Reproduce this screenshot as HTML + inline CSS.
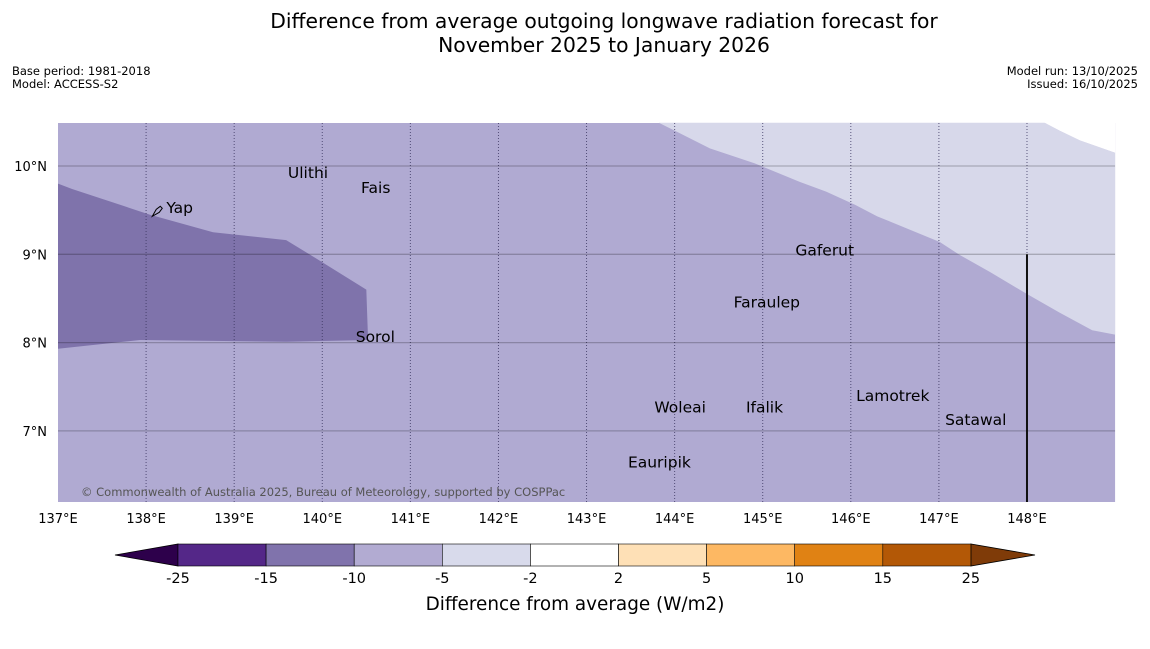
<!DOCTYPE html>
<html><head><meta charset="utf-8"><style>
body{margin:0;background:#fff;width:1150px;height:644px;overflow:hidden;font-family:"Liberation Sans","DejaVu Sans",sans-serif}
svg text{font-family:"DejaVu Sans","Liberation Sans",sans-serif}
</style></head><body>
<svg id="chart" width="1150" height="644" xmlns="http://www.w3.org/2000/svg">
<text x="604" y="28" font-size="20.3" text-anchor="middle">Difference from average outgoing longwave radiation forecast for</text>
<text x="604" y="52" font-size="20.3" text-anchor="middle">November 2025 to January 2026</text>
<text x="12" y="75" font-size="11.5">Base period: 1981-2018</text>
<text x="12" y="88" font-size="11.5">Model: ACCESS-S2</text>
<text x="1138" y="75" font-size="11.5" text-anchor="end">Model run: 13/10/2025</text>
<text x="1138" y="88" font-size="11.5" text-anchor="end">Issued: 16/10/2025</text>
<g id="map"></g>
<g id="cbar"></g>
<text x="575" y="610" font-size="18.4" text-anchor="middle">Difference from average (W/m2)</text>
</svg>
<script>
const lonTicks=[137,138,139,140,141,142,143,144,145,146,147,148];
const latTicks=[10,9,8,7];
const levels=[-25,-15,-10,-5,-2,2,5,10,15,25];
const levelColors=["#542788","#8073ac","#b2abd2","#d8daeb","#ffffff","#fee0b6","#fdb863","#e08214","#b35806"];
const places=["Ulithi","Fais","Yap","Gaferut","Faraulep","Sorol","Woleai","Ifalik","Lamotrek","Satawal","Eauripik"];
const placeLon=[139.61,140.44,138.23,145.37,144.67,140.38,143.77,144.81,146.06,147.07,143.47];
const placeLat=[9.9,9.73,9.5,9.02,8.43,8.04,7.24,7.24,7.37,7.1,6.62];
const lightLon=[143.82,144.0,144.4,144.91,145.42,145.72,146.05,146.3,147.01,147.24,147.58,148.0,148.37,148.74,149,149,148.6,148.37,148.2];
const lightLat=[10.49,10.4,10.2,10.03,9.82,9.71,9.56,9.43,9.14,8.99,8.8,8.55,8.34,8.14,8.09,10.15,10.29,10.4,10.49];
const cornerLon=[148.2,148.37,148.6,149,149];
const cornerLat=[10.49,10.4,10.29,10.15,10.49];
const darkLon=[137,137.16,138.04,138.76,139.59,139.92,140.5,140.52,139.59,137.93,137];
const darkLat=[9.8,9.74,9.45,9.25,9.16,8.96,8.6,8.03,8.01,8.03,7.93];
const NS="http://www.w3.org/2000/svg";
const X0=58,PX=88.09,Y10=166,PY=88.3;
const lonMax=149;
const x=l=>X0+(l-137)*PX, y=la=>Y10+(10-la)*PY;
const mapTop=123,mapBot=502;
function mk(t,a,p){const e=document.createElementNS(NS,t);for(const k in a)e.setAttribute(k,a[k]);(p||document.getElementById('map')).appendChild(e);return e;}
let r=mk('rect',{x:X0,y:mapTop,width:x(lonMax)-X0,height:mapBot-mapTop,fill:'#b0aad2'});


let pl=mk('polygon',{points:lightLon.map((l,i)=>x(l)+','+y(lightLat[i])).join(' '),fill:'#d7d8ea'});


let pc=mk('polygon',{points:cornerLon.map((l,i)=>x(l)+','+y(cornerLat[i])).join(' '),fill:'#ffffff'});


let pd=mk('polygon',{points:darkLon.map((l,i)=>x(l)+','+y(darkLat[i])).join(' '),fill:'#7f73ab'});


lonTicks.forEach(l=>{
 if(l>137){let g=mk('line',{x1:x(l),x2:x(l),y1:mapTop,y2:mapBot,stroke:'#3a3560','stroke-width':1,'stroke-dasharray':'1,2','opacity':0.8});
 
 }
 let t=mk('text',{x:x(l),y:523,'font-size':13,'text-anchor':'middle'});t.textContent=l+'°E';
 
 
});
latTicks.forEach(la=>{
 let g=mk('line',{x1:X0,x2:x(lonMax),y1:y(la),y2:y(la),stroke:'#000','stroke-opacity':0.22,'stroke-width':1.3});
 
 
 let t=mk('text',{x:47,y:y(la)+5,'font-size':13,'text-anchor':'end'});t.textContent=la+'°N';
 
 
});
let bl=mk('line',{x1:x(148),x2:x(148),y1:y(9),y2:mapBot,stroke:'#111','stroke-width':2});


places.forEach((p,i)=>{
 let t=mk('text',{x:x(placeLon[i]),y:y(placeLat[i])+3,'font-size':15.5});t.textContent=p;
 
 
});
let yi=mk('path',{d:`M${x(138.07)} ${y(9.43)} l4 -7 l4 -3 l2 2 l-3 4 z`,fill:'none',stroke:'#000','stroke-width':1});


let cr=mk('text',{x:81,y:496,'font-size':11.5,fill:'#555'});cr.textContent='© Commonwealth of Australia 2025, Bureau of Meteorology, supported by COSPPac';


const cb=document.getElementById('cbar');
const CX0=178,CW=88.1,CY=544,CH=22;
let lt=mk('polygon',{points:`${CX0},${CY} ${CX0},${CY+CH} 115,${CY+CH/2}`,fill:'#2d004b',stroke:'#000','stroke-width':0.8},cb);


const CX1=CX0+CW*levelColors.length;
let rt=mk('polygon',{points:`${CX1},${CY} ${CX1},${CY+CH} 1035,${CY+CH/2}`,fill:'#7f3b08',stroke:'#000','stroke-width':0.8},cb);


levelColors.forEach((c,i)=>{
 let s=mk('rect',{x:CX0+i*CW,y:CY,width:CW,height:CH,fill:c,stroke:'#000','stroke-width':0.6},cb);
 
 
});
levels.forEach((v,i)=>{
 let t=mk('text',{x:CX0+i*CW,y:583,'font-size':14.5,'text-anchor':'middle'},cb);t.textContent=v;
 
 
});
</script>
</body></html>
